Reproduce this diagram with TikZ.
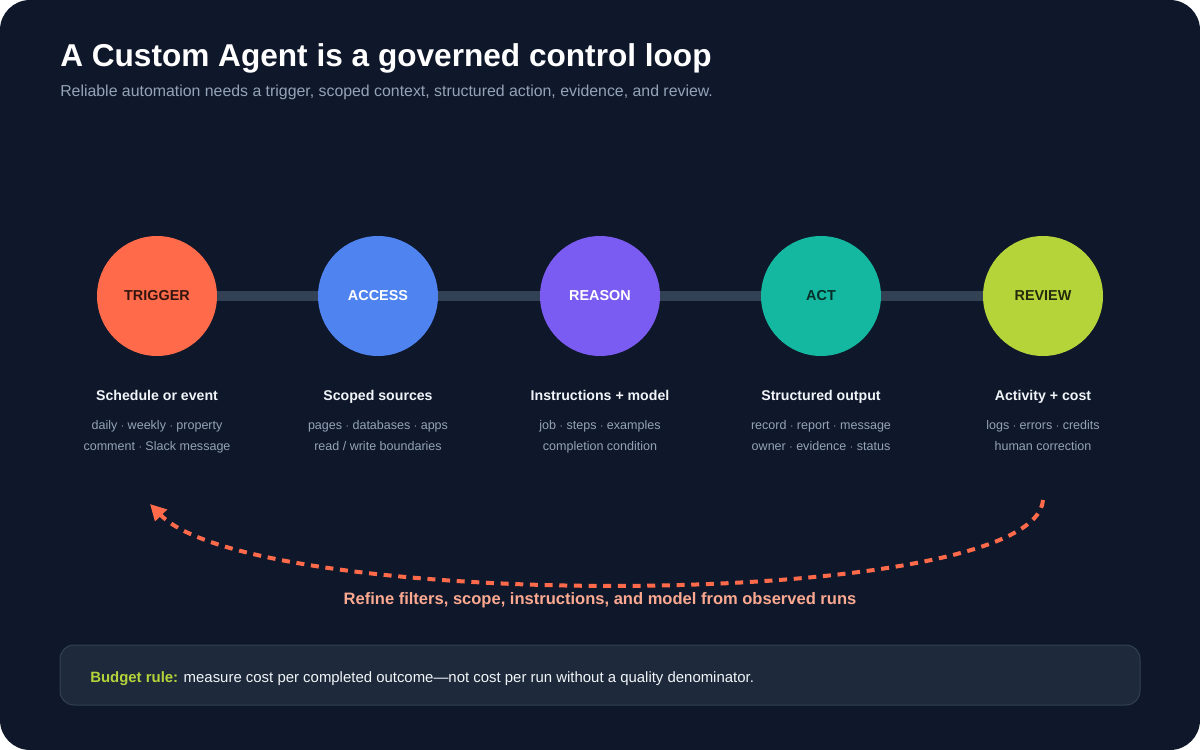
\documentclass[tikz,border=0pt]{standalone}
\usepackage{fontspec}
\setmainfont{Liberation Sans}
\usetikzlibrary{positioning, arrows.meta, calc}
\definecolor{loopnavy}{HTML}{0F172A}
\definecolor{loopslate}{HTML}{334155}
\definecolor{loopbox}{HTML}{1E293B}
\definecolor{loopgrey}{HTML}{94A3B8}
\definecolor{loopwhite}{HTML}{F1F5F9}
\definecolor{looporange}{HTML}{FF6B4A}
\definecolor{loopsalmon}{HTML}{FBA990}
\definecolor{loopblue}{HTML}{4F83EF}
\definecolor{loopviolet}{HTML}{7A5CF2}
\definecolor{loopteal}{HTML}{14B8A0}
\definecolor{looplime}{HTML}{B5D43A}

\begin{document}
\begin{tikzpicture}[x=0.75pt, y=-0.75pt,
    stage/.style={circle, minimum size=90pt, inner sep=0pt, font=\fontsize{10.8}{12}\selectfont\bfseries},
    heading/.style={anchor=base, text=loopwhite, font=\fontsize{10.6}{12}\selectfont\bfseries},
    detail/.style={anchor=base, text=loopgrey, align=center, font=\fontsize{9.4}{15.75}\selectfont},
    link/.style={draw=loopslate, line width=7.5pt}]
  % page and card
  \fill[white] (0,0) rectangle (1200,750);
  \useasboundingbox (0,0) rectangle (1200,750);
  \fill[loopnavy, rounded corners=22.5pt] (0,0) rectangle (1200,750);

  % title
  \node[anchor=base west, inner sep=0pt, text=white, font=\fontsize{23.7}{26}\selectfont\bfseries] (title) at (60,66)
    {A Custom Agent is a governed control loop};
  \node[anchor=base west, inner sep=0pt, text=loopgrey, font=\fontsize{11.9}{13}\selectfont] (subtitle) at (60,96.5)
    {Reliable automation needs a trigger, scoped context, structured action, evidence, and review.};

  % stages
  \node[stage, fill=looporange, text=black!80!looporange] (trigger) at (157,296) {TRIGGER};
  \node[stage, fill=loopblue, text=white] (access) at (378,296) {ACCESS};
  \node[stage, fill=loopviolet, text=white] (reason) at (600,296) {REASON};
  \node[stage, fill=loopteal, text=black!75!loopteal] (act) at (821,296) {ACT};
  \node[stage, fill=looplime, text=black!80!looplime] (review) at (1043,296) {REVIEW};

  \foreach \a/\b in {trigger/access, access/reason, reason/act, act/review}
    \draw[link] (\a.east) -- (\b.west);

  % labels under the stages
  \node[heading] (h1) at (157,400) {Schedule or event};
  \node[detail] (d1) at (157,450.5) {daily $\cdot$ weekly $\cdot$ property\\comment $\cdot$ Slack message};
  \node[heading] (h2) at (378,400) {Scoped sources};
  \node[detail] (d2) at (378,450.5) {pages $\cdot$ databases $\cdot$ apps\\read / write boundaries};
  \node[heading] (h3) at (600,400) {Instructions + model};
  \node[detail] (d3) at (600,450.5) {job $\cdot$ steps $\cdot$ examples\\completion condition};
  \node[heading] (h4) at (821,400) {Structured output};
  \node[detail] (d4) at (821,450.5) {record $\cdot$ report $\cdot$ message\\owner $\cdot$ evidence $\cdot$ status};
  \node[heading] (h5) at (1043,400) {Activity + cost};
  \node[detail] (d5) at (1043,450.5) {logs $\cdot$ errors $\cdot$ credits\\human correction};

  % feedback loop
  \coordinate (loopstart) at (1043,500);
  \coordinate (loopend) at (150,504);
  \draw[looporange, line width=3pt, dash pattern=on 6pt off 5pt,
        -{Triangle[length=12pt, width=12pt]}]
    (loopstart) .. controls (1035,612) and (255,612) .. (loopend);
  \node[anchor=base, text=loopsalmon, font=\fontsize{12.4}{14}\selectfont\bfseries] (refine) at (600,604.5)
    {Refine filters, scope, instructions, and model from observed runs};

  % budget note
  \draw[fill=loopbox, draw=loopslate, line width=0.75pt, rounded corners=10.5pt] (60,645) rectangle (1140,705);
  \node[anchor=base west, inner sep=0pt, text=loopwhite, font=\fontsize{11.2}{13}\selectfont] (budget) at (90,682)
    {\textcolor{looplime}{\bfseries Budget rule:} measure cost per completed outcome—not cost per run without a quality denominator.};
\end{tikzpicture}
\end{document}
